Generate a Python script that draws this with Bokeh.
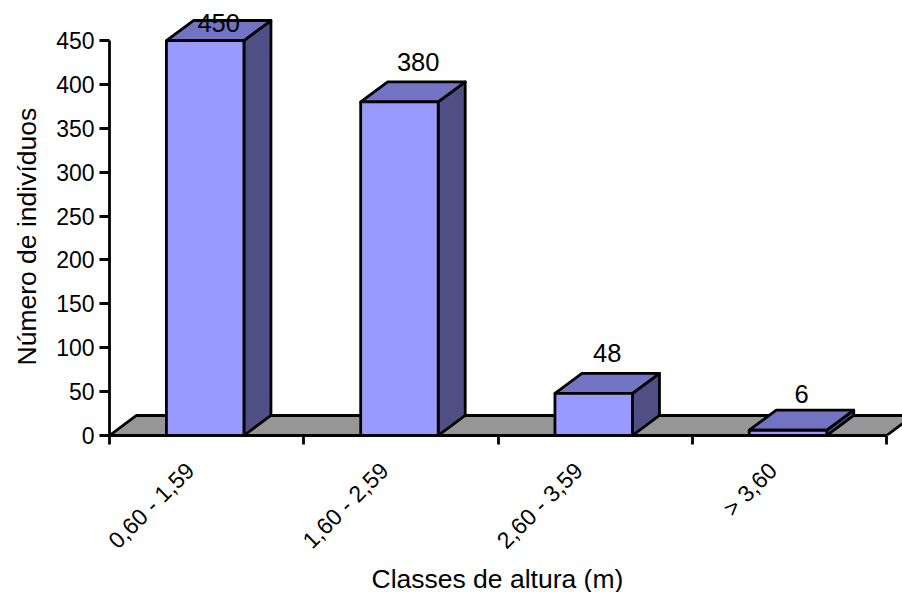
from bokeh.core.properties import value
from bokeh.embed import file_html
from bokeh.models import FixedTicker, Range1d, Title
from bokeh.plotting import figure
from bokeh.resources import INLINE

classes = ["0,60 - 1,59", "1,60 - 2,59", "2,60 - 3,59", "> 3,60"]
individuals = [450, 380, 48, 6]
y_ticks = [0, 50, 100, 150, 200, 250, 300, 350, 400, 450]

FONT = "Liberation Sans"
TICK_SIZE = "23px"
LABEL_SIZE = "25.5px"
TITLE_SIZE = "26.5px"
INK = "#000000"
FRONT = "#9999ff"
TOP = "#7373c4"
SIDE = "#4f4f85"
FLOOR = "#969696"
LINE_W = 2.8

# Oblique depth of the pseudo-3D boxes, in data units
DEPTH_X = 0.139
DEPTH_Y = 22.8
BAR_LEFT = 0.293
BAR_RIGHT = 0.692
LABEL_GAP = 23
LABEL_CAP = 470
LABEL_NUDGE_X = [0, 0.027, 0, 0]
LABEL_NUDGE_Y = [0, 0, 0, -4]
TICK_LABEL_X = 0.415

p = figure(
    frame_width=793, frame_height=435, width=902, height=592,
    output_backend="svg", toolbar_location=None,
    x_range=Range1d(0, 4.082), y_range=Range1d(0, 495.6),
    min_border_left=109, min_border_right=0, min_border_top=0, min_border_bottom=157,
    background_fill_color="white", border_fill_color="white",
)
p.outline_line_color = None
p.grid.visible = False

# Floor of the chart
n = len(classes)
p.patch([0, DEPTH_X, n + DEPTH_X, n], [0, DEPTH_Y, DEPTH_Y, 0],
        fill_color=FLOOR, line_color=INK, line_width=LINE_W)

# Boxes: side and top faces first, then the front
lefts = [i + BAR_LEFT for i in range(n)]
rights = [i + BAR_RIGHT for i in range(n)]
p.patches(
    [[r, r + DEPTH_X, r + DEPTH_X, r] for r in rights],
    [[0, DEPTH_Y, v + DEPTH_Y, v] for v in individuals],
    fill_color=SIDE, line_color=INK, line_width=LINE_W, line_join="round",
)
p.patches(
    [[l, l + DEPTH_X, r + DEPTH_X, r] for l, r in zip(lefts, rights)],
    [[v, v + DEPTH_Y, v + DEPTH_Y, v] for v in individuals],
    fill_color=TOP, line_color=INK, line_width=LINE_W, line_join="round",
)
p.quad(left=lefts, right=rights, bottom=0, top=individuals,
       fill_color=FRONT, line_color=INK, line_width=LINE_W)

# Value labels above each box, held below the top of the plot
p.text(
    x=[(l + r + DEPTH_X) / 2 + dx for l, r, dx in zip(lefts, rights, LABEL_NUDGE_X)],
    y=[min(v + DEPTH_Y + LABEL_GAP, LABEL_CAP) + dy for v, dy in zip(individuals, LABEL_NUDGE_Y)],
    text=[str(v) for v in individuals],
    text_font=value(FONT), text_font_size=value(LABEL_SIZE), text_color=INK,
    text_align="center", text_baseline="middle",
)

yaxis = p.yaxis[0]
yaxis.ticker = FixedTicker(ticks=y_ticks)
yaxis.bounds = (0, 450)
yaxis.major_tick_out = 10
yaxis.major_tick_in = 0
yaxis.minor_tick_line_color = None
yaxis.major_tick_line_color = INK
yaxis.major_tick_line_width = LINE_W

xaxis = p.xaxis[0]
label_ticks = [i + TICK_LABEL_X for i in range(n)]
xaxis.ticker = FixedTicker(ticks=label_ticks, minor_ticks=list(range(n + 1)))
xaxis.major_label_overrides = {c: s for c, s in zip(label_ticks, classes)}
xaxis.major_label_orientation = 0.785
xaxis.bounds = (0, n)
xaxis.major_tick_line_color = None
xaxis.major_tick_out = 0
xaxis.major_tick_in = 0
xaxis.major_label_standoff = 22
xaxis.minor_tick_out = 9
xaxis.minor_tick_in = 0
xaxis.minor_tick_line_color = INK
xaxis.minor_tick_line_width = LINE_W

for axis in (xaxis, yaxis):
    axis.axis_line_color = INK
    axis.axis_line_width = LINE_W
    axis.major_label_text_font = FONT
    axis.major_label_text_font_size = TICK_SIZE
    axis.major_label_text_color = INK

# Axis titles sit in the side panels so they are not clipped by the frame
p.add_layout(Title(
    text="Classes de altura (m)", align="left", offset=262, standoff=-8,
    text_font=FONT, text_font_size=TITLE_SIZE, text_font_style="normal", text_color=INK,
), "below")
p.add_layout(Title(
    text="Número de indivíduos", align="left", offset=70, standoff=20, vertical_align="top",
    text_font=FONT, text_font_size=TITLE_SIZE, text_font_style="normal", text_color=INK,
), "left")

open("out.html", "w").write(file_html(p, INLINE))
